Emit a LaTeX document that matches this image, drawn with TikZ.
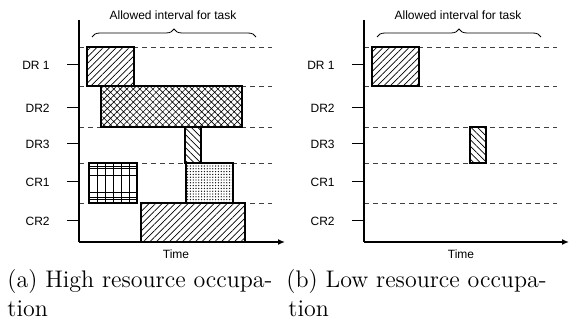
\documentclass[tikz,border=0pt]{standalone}
\usepackage{fontspec}
\setsansfont{Liberation Sans}
\usetikzlibrary{arrows.meta,patterns.meta,decorations.pathreplacing}

\tikzset{
	axisline/.style={line width=1pt},
	rowline/.style={dash pattern=on 2.5pt off 2pt, line width=0.4pt, black!75},
	tickline/.style={line width=0.5pt},
	barbox/.style={draw=black, line width=0.6pt},
	gridline/.style={line width=0.4pt},
	hatchNE/.style={pattern={Lines[angle=45,distance=2.3pt,line width=0.35pt]}},
	hatchNW/.style={pattern={Lines[angle=-45,distance=2.3pt,line width=0.35pt]}},
	hatchX/.style={pattern={Hatch[angle=45,distance=2.3pt,line width=0.3pt]}},
	dotfill/.style={pattern={Dots[distance=1.4pt,radius=0.33pt]}},
	rowlabel/.style={anchor=east, inner sep=0pt, font=\fontsize{6}{7}\selectfont\sffamily},
	smalltext/.style={inner sep=0pt, font=\fontsize{6}{7}\selectfont\sffamily},
	captext/.style={anchor=base west, inner sep=0pt, font=\fontsize{12}{14.5}\selectfont}
}

\begin{document}
\begin{tikzpicture}[x=0.5pt, y=-0.5pt]
	\useasboundingbox (0,0) rectangle (569,320);
	
	% (a) high resource occupation
	\draw [rowline] (79,47) -- (272,47);
	\draw [rowline] (79,86) -- (272,86);
	\draw [rowline] (79,127) -- (272,127);
	\draw [rowline] (79,163) -- (272,163);
	\draw [rowline] (79,203) -- (272,203);
	
	\draw [barbox, hatchNE] (87,47) rectangle (134,86);
	\draw [barbox, hatchX] (101,86) rectangle (242,127);
	\draw [barbox, hatchNW] (185,127) rectangle (201,163);
	\draw [barbox] (89,163) rectangle (137,203);
	\draw [gridline] (97,163) -- (97,203) (105,163) -- (105,203) (113,163) -- (113,203)
		(121,163) -- (121,203) (129,163) -- (129,203);
	\draw [gridline] (89,166.5) -- (137,166.5) (89,168.5) -- (137,168.5) (89,175) -- (137,175)
		(89,192) -- (137,192) (89,197) -- (137,197) (89,199) -- (137,199);
	\draw [barbox, dotfill] (186,163) rectangle (233,203);
	\draw [barbox, hatchNE] (141,203) rectangle (245,242);
	
	\draw [axisline] (79,20) -- (79,242);
	\draw [axisline, -{Latex[length=3.5pt,width=3pt]}] (79,242) -- (285,242);
	
	\draw [tickline] (67,65) -- (79,65);
	\draw [tickline] (67,108) -- (79,108);
	\draw [tickline] (67,144) -- (79,144);
	\draw [tickline] (67,182) -- (79,182);
	\draw [tickline] (67,221) -- (79,221);
	
	\node [rowlabel] (drOneA) at (50,65) {DR 1};
	\node [rowlabel] (drTwoA) at (50,108) {DR2};
	\node [rowlabel] (drThreeA) at (50,144) {DR3};
	\node [rowlabel] (crOneA) at (50,182) {CR1};
	\node [rowlabel] (crTwoA) at (50,221) {CR2};
	
	\draw [decorate, decoration={brace, amplitude=4pt}, line width=0.4pt] (92,37) -- (256,37);
	\node [smalltext] (intervalA) at (173,15) {Allowed interval for task};
	\node [smalltext] (timeA) at (176,254) {Time};
	
	\node [captext] (capA) at (7,288) {(a) High resource occupa-};
	\node [captext] (capAtail) at (7,317) {tion};
	
	% (b) low resource occupation
	\draw [rowline] (364,47) -- (557,47);
	\draw [rowline] (364,86) -- (557,86);
	\draw [rowline] (364,127) -- (557,127);
	\draw [rowline] (364,163) -- (557,163);
	\draw [rowline] (364,203) -- (557,203);
	
	\draw [barbox, hatchNE] (372,47) rectangle (419,86);
	\draw [barbox, hatchNW] (470,127) rectangle (486,163);
	
	\draw [axisline] (364,20) -- (364,242);
	\draw [axisline, -{Latex[length=3.5pt,width=3pt]}] (364,242) -- (569,242);
	
	\draw [tickline] (352,65) -- (364,65);
	\draw [tickline] (352,108) -- (364,108);
	\draw [tickline] (352,144) -- (364,144);
	\draw [tickline] (352,182) -- (364,182);
	\draw [tickline] (352,221) -- (364,221);
	
	\node [rowlabel] (drOneB) at (335,65) {DR 1};
	\node [rowlabel] (drTwoB) at (335,108) {DR2};
	\node [rowlabel] (drThreeB) at (335,144) {DR3};
	\node [rowlabel] (crOneB) at (335,182) {CR1};
	\node [rowlabel] (crTwoB) at (335,221) {CR2};
	
	\draw [decorate, decoration={brace, amplitude=4pt}, line width=0.4pt] (377,37) -- (541,37);
	\node [smalltext] (intervalB) at (458,15) {Allowed interval for task};
	\node [smalltext] (timeB) at (461,254) {Time};
	
	\node [captext] (capB) at (286,288) {(b) Low resource occupa-};
	\node [captext] (capBtail) at (288,317) {tion};
\end{tikzpicture}
\end{document}
